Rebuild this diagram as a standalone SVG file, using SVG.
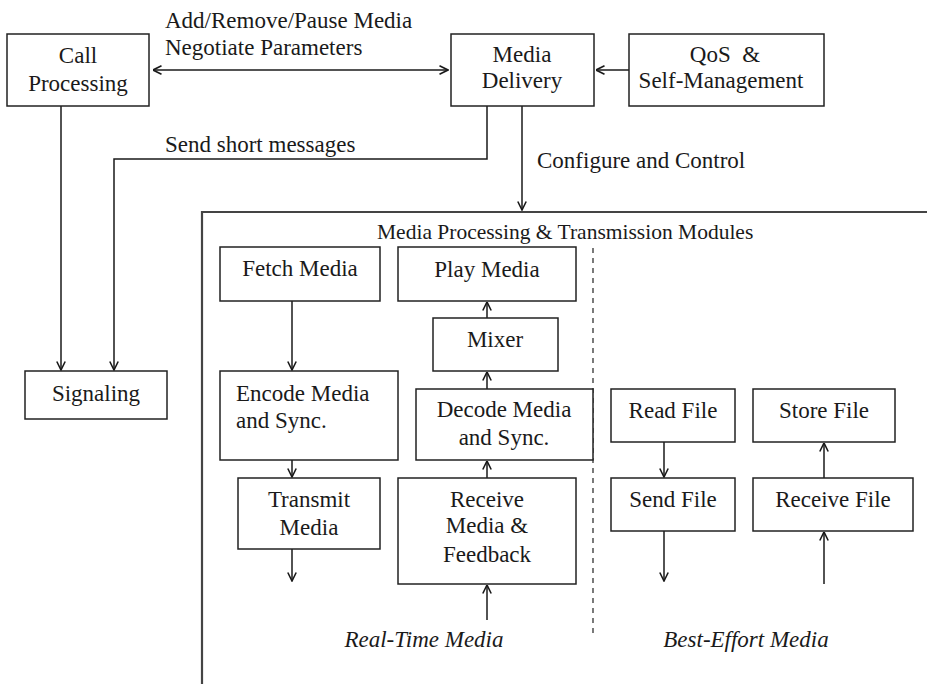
<svg xmlns="http://www.w3.org/2000/svg" width="927" height="684" viewBox="0 0 927 684">
<defs>
<marker id="arr" viewBox="0 0 10 10" refX="9.5" refY="5" markerWidth="10" markerHeight="10" markerUnits="userSpaceOnUse" orient="auto-start-reverse">
<path d="M1,0.8 L9.5,5 L1,9.2" fill="none" stroke="#1a1a1a" stroke-width="1.6"/>
</marker>
<style>
.box{fill:#fff;stroke:#222;stroke-width:1.5}
.t{font-family:"Liberation Serif","Times New Roman",serif;font-size:23px;fill:#1a1a1a}
.c{text-anchor:middle}
.i{font-style:italic}
.ln{fill:none;stroke:#1a1a1a;stroke-width:1.5}
.a{marker-end:url(#arr)}
.frame{fill:none;stroke:#444;stroke-width:2.2}
</style>
</defs>
<rect width="927" height="684" fill="#fff"/>

<g id="frame">
<path class="frame" d="M202,684 V212 H927"/>
<line x1="593" y1="248" x2="593" y2="637" stroke="#222" stroke-width="1.2" stroke-dasharray="5,5"/>
<text class="t" x="377" y="239" style="font-size:21.5px">Media Processing &amp; Transmission Modules</text>
<text class="t c i" x="424" y="647">Real-Time Media</text>
<text class="t c i" x="746" y="647">Best-Effort Media</text>
</g>

<g id="connectors">
<line class="ln a" x1="153" y1="70" x2="448" y2="70" marker-start="url(#arr)"/>
<line class="ln a" x1="629" y1="70" x2="596" y2="70"/>
<line class="ln a" x1="61" y1="106" x2="61" y2="370"/>
<path class="ln a" d="M487,106 V159 H114 V370"/>
<line class="ln a" x1="522" y1="106" x2="522" y2="210"/>
<line class="ln a" x1="292" y1="301" x2="292" y2="370"/>
<line class="ln a" x1="292" y1="460" x2="292" y2="477"/>
<line class="ln a" x1="292" y1="549" x2="292" y2="581"/>
<line class="ln a" x1="487" y1="620" x2="487" y2="585"/>
<line class="ln a" x1="487" y1="478" x2="487" y2="461"/>
<line class="ln a" x1="487" y1="389" x2="487" y2="372"/>
<line class="ln a" x1="487" y1="318" x2="487" y2="302"/>
<line class="ln a" x1="664" y1="442" x2="664" y2="477"/>
<line class="ln a" x1="664" y1="531" x2="664" y2="581"/>
<line class="ln a" x1="824" y1="584" x2="824" y2="532"/>
<line class="ln a" x1="824" y1="478" x2="824" y2="443"/>
<text class="t" x="165" y="28">Add/Remove/Pause Media</text>
<text class="t" x="165" y="55">Negotiate Parameters</text>
<text class="t" x="165" y="152">Send short messages</text>
<text class="t" x="537" y="168">Configure and Control</text>
</g>

<g id="call-processing">
<rect class="box" x="7" y="34" width="142" height="72"/>
<text class="t c" x="78" y="63">Call</text>
<text class="t c" x="78" y="91">Processing</text>
</g>
<g id="media-delivery">
<rect class="box" x="451" y="34" width="143" height="72"/>
<text class="t c" x="522" y="62">Media</text>
<text class="t c" x="522" y="88">Delivery</text>
</g>
<g id="qos">
<rect class="box" x="629" y="34" width="195" height="72"/>
<text class="t c" x="725" y="62" style="white-space:pre">QoS  &amp;</text>
<text class="t c" x="721" y="88">Self-Management</text>
</g>
<g id="signaling">
<rect class="box" x="25" y="371" width="142" height="48"/>
<text class="t c" x="96" y="401">Signaling</text>
</g>
<g id="fetch-media">
<rect class="box" x="220" y="247" width="160" height="54"/>
<text class="t c" x="300" y="276">Fetch Media</text>
</g>
<g id="encode-media">
<rect class="box" x="220" y="371" width="178" height="89"/>
<text class="t" x="236" y="401">Encode Media</text>
<text class="t" x="236" y="428">and Sync.</text>
</g>
<g id="transmit-media">
<rect class="box" x="238" y="478" width="142" height="71"/>
<text class="t c" x="309" y="507">Transmit</text>
<text class="t c" x="309" y="535">Media</text>
</g>
<g id="play-media">
<rect class="box" x="398" y="247" width="178" height="54"/>
<text class="t c" x="487" y="277">Play Media</text>
</g>
<g id="mixer">
<rect class="box" x="433" y="318" width="125" height="53"/>
<text class="t c" x="495" y="347">Mixer</text>
</g>
<g id="decode-media">
<rect class="box" x="416" y="389" width="177" height="71"/>
<text class="t c" x="504" y="417">Decode Media</text>
<text class="t c" x="504" y="445">and Sync.</text>
</g>
<g id="receive-media">
<rect class="box" x="398" y="478" width="178" height="106"/>
<text class="t c" x="487" y="507">Receive</text>
<text class="t c" x="487" y="533">Media &amp;</text>
<text class="t c" x="487" y="562">Feedback</text>
</g>
<g id="read-file">
<rect class="box" x="611" y="389" width="124" height="53"/>
<text class="t c" x="673" y="418">Read File</text>
</g>
<g id="send-file">
<rect class="box" x="611" y="478" width="124" height="53"/>
<text class="t c" x="673" y="507">Send File</text>
</g>
<g id="store-file">
<rect class="box" x="753" y="389" width="142" height="53"/>
<text class="t c" x="824" y="418">Store File</text>
</g>
<g id="receive-file">
<rect class="box" x="753" y="478" width="160" height="53"/>
<text class="t c" x="833" y="507">Receive File</text>
</g>
</svg>
